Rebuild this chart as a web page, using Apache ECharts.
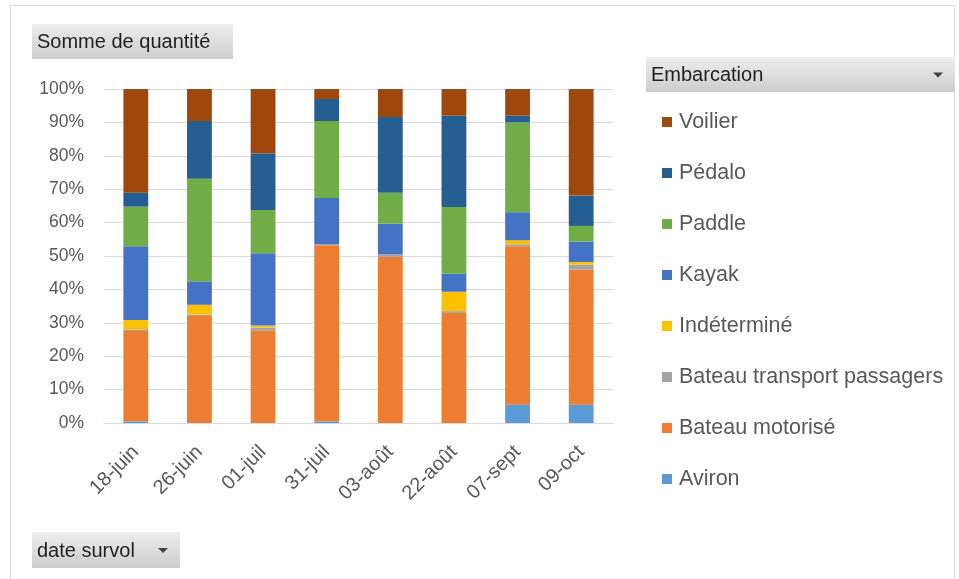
<!DOCTYPE html>
<html>
<head>
<meta charset="utf-8">
<script src="https://cdn.jsdelivr.net/npm/echarts@6/dist/echarts.min.js"></script>
<style>
  html, body { margin: 0; padding: 0; background: #fff; }
  #chart { width: 959px; height: 579px; }
</style>
</head>
<body>
<div id="chart"></div>
<script>
// dates of the survey flights
const dates = ['18-juin', '26-juin', '01-juil', '31-juil', '03-août', '22-août', '07-sept', '09-oct']

// share per boat type (%)
const aviron = [0.5, 0, 0, 0.5, 0, 0, 5.5, 5.5]
const bateauMotorise = [27.1, 32.0, 27.6, 52.7, 49.7, 32.9, 47.4, 40.4]
const bateauTransport = [0.5, 0.4, 1.0, 0.4, 0.8, 0.6, 0.6, 1.5]
const indetermine = [2.8, 3.0, 0.6, 0, 0, 5.8, 1.2, 0.8]
const kayak = [22.1, 7.0, 21.6, 13.8, 9.2, 5.4, 8.4, 6.1]
const paddle = [11.9, 30.7, 13.0, 23.0, 9.2, 20.0, 26.9, 4.7]
const pedalo = [4.2, 17.3, 16.9, 6.6, 22.7, 27.3, 2.0, 9.1]
const voilier = [31.1, 9.6, 19.3, 3.0, 8.4, 8.0, 8.0, 31.9]

const seriesNames = ['Aviron', 'Bateau motorisé', 'Bateau transport passagers', 'Indéterminé', 'Kayak', 'Paddle', 'Pédalo', 'Voilier']
const seriesData = [aviron, bateauMotorise, bateauTransport, indetermine, kayak, paddle, pedalo, voilier]
const colors = ['#5B9BD5', '#ED7D31', '#A5A5A5', '#FFC000', '#4472C4', '#70AD47', '#255E91', '#9E480E']

// 100% stacked: normalise each column
const totals = dates.map((d, i) => seriesData.reduce((s, arr) => s + arr[i], 0))

const font = 'Liberation Sans, Arial, sans-serif'
const btnFill = new echarts.graphic.LinearGradient(0, 0, 0, 1, [
  { offset: 0, color: '#EEEEEE' },
  { offset: 1, color: '#CDCDCD' }
])

function button(x, y, w, h, label, arrow) {
  const children = [
    { type: 'rect', shape: { x: x, y: y, width: w, height: h }, style: { fill: btnFill } },
    { type: 'text', x: x + 5, y: y + h / 2 + 1, style: { text: label, fill: '#1F1F1F', font: '20px ' + font, verticalAlign: 'middle' } }
  ]
  if (arrow) {
    children.push({
      type: 'polygon',
      shape: { points: [[x + w - 22, y + h / 2 - 2], [x + w - 12, y + h / 2 - 2], [x + w - 17, y + h / 2 + 3]] },
      style: { fill: '#404040' }
    })
  }
  return { type: 'group', children: children }
}

const myChart = echarts.init(document.getElementById('chart'))

const series = seriesNames.map((name, idx) => {
  return {
    name: name,
    type: 'bar',
    stack: 'total',
    barWidth: '39%',
    itemStyle: { color: colors[idx] },
    emphasis: { disabled: true },
    data: seriesData[idx].map((v, i) => +(v / totals[i] * 100).toFixed(2))
  }
})

const option = {
  animation: false,
  color: colors,
  grid: { left: 104, right: 346, top: 89, bottom: 156 },
  legend: {
    data: seriesNames.slice().reverse(),
    orient: 'vertical',
    left: 657,
    top: 106,
    icon: 'rect',
    itemWidth: 10,
    itemHeight: 10,
    itemGap: 29,
    textStyle: { color: '#595959', fontSize: 21.5, lineHeight: 21, fontFamily: font, padding: [0, 0, 0, 2] }
  },
  xAxis: {
    type: 'category',
    data: dates,
    axisLine: { lineStyle: { color: '#D9D9D9', width: 1 } },
    axisTick: { show: false },
    axisLabel: { rotate: 45, color: '#595959', fontSize: 20, fontFamily: font, margin: 26 }
  },
  yAxis: {
    type: 'value',
    min: 0,
    max: 100,
    interval: 10,
    axisLine: { show: false },
    axisTick: { show: false },
    splitLine: { lineStyle: { color: '#D9D9D9', width: 1 } },
    axisLabel: { formatter: '{value}%', color: '#595959', fontSize: 17.5, fontFamily: font, margin: 20 }
  },
  graphic: [
    { type: 'rect', shape: { x: 10.5, y: 5.5, width: 944, height: 600 }, style: { fill: 'none', stroke: '#D9D9D9', lineWidth: 1 } },
    button(32, 24, 201, 35, 'Somme de quantité', false),
    button(646, 57, 309, 35, 'Embarcation', true),
    button(32, 532, 148, 36, 'date survol', true)
  ],
  series
}
myChart.setOption(option)
</script>
</body>
</html>
